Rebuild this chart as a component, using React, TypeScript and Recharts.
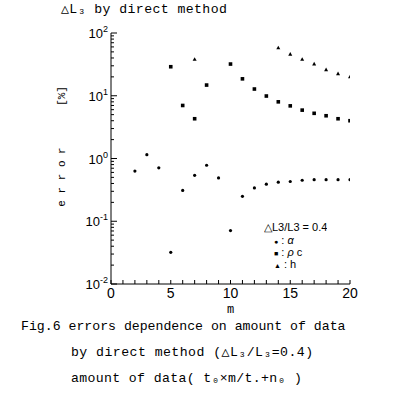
import React from 'react';
import { ScatterChart, Scatter, XAxis, YAxis } from 'recharts';

// m (amount of data) and error [%]
const alphaM = [2, 3, 4, 5, 6, 7, 8, 9, 10, 11, 12, 13, 14, 15, 16, 17, 18, 19, 20];
const alphaErr = [0.63, 1.15, 0.71, 0.032, 0.31, 0.54, 0.78, 0.49, 0.071, 0.25, 0.34, 0.39, 0.42, 0.43, 0.45, 0.46, 0.46, 0.46, 0.46];

const rhoM = [5, 6, 7, 8, 10, 11, 12, 13, 14, 15, 16, 17, 18, 19, 20];
const rhoErr = [29, 7.0, 4.3, 14.8, 32, 18.6, 12.8, 9.9, 8.0, 6.9, 5.9, 5.25, 4.8, 4.3, 4.0];

const hM = [7, 14, 15, 16, 17, 18, 19, 20];
const hErr = [38, 58, 46, 38, 32, 26, 22.5, 20];

const xTicks = [0, 1, 2, 3, 4, 5, 6, 7, 8, 9, 10, 11, 12, 13, 14, 15, 16, 17, 18, 19, 20];
const xLabels = [0, 5, 10, 15, 20];
const decades = [0.01, 0.1, 1, 10, 100];
const minorSteps = [1, 2, 3, 4, 5, 6, 7, 8, 9];

const yTicks = decades
  .slice(0, -1)
  .flatMap((d) => minorSteps.map((k) => +(d * k).toPrecision(3)))
  .concat([100]);

const alphaData = alphaM.map((m, i) => ({ m, err: alphaErr[i] }));
const rhoData = rhoM.map((m, i) => ({ m, err: rhoErr[i] }));
const hData = hM.map((m, i) => ({ m, err: hErr[i] }));

const axisFont = '"Liberation Sans", Arial, sans-serif';
const monoFont = '"Liberation Mono", "DejaVu Sans Mono", monospace';

const isDecade = (v: number) => Math.abs(Math.log10(v) - Math.round(Math.log10(v))) < 1e-6;

const BottomTick = ({ x, y, payload }: any) => (
  <g>
    <line x1={x} x2={x} y1={y} y2={y - 4} stroke="#000" />
    {xLabels.includes(payload.value) && (
      <text x={x} y={y + 14} textAnchor="middle" fontSize={14} fontFamily={axisFont} fill="#000">
        {payload.value}
      </text>
    )}
  </g>
);

const TopTick = ({ x, y }: any) => <line x1={x} x2={x} y1={y} y2={y + 4} stroke="#000" />;

const LeftTick = ({ x, y, payload }: any) => {
  const major = isDecade(payload.value);
  const exp = Math.round(Math.log10(payload.value));
  return (
    <g>
      <line x1={x} x2={x + (major ? 6 : 3)} y1={y} y2={y} stroke="#000" />
      {major && (
        <text x={x - 3} y={y + 5} textAnchor="end" fontSize={13} fontFamily={axisFont} fill="#000">
          10
          <tspan dy={-6} fontSize={9}>{exp}</tspan>
        </text>
      )}
    </g>
  );
};

const RightTick = ({ x, y, payload }: any) =>
  isDecade(payload.value) ? <line x1={x} x2={x - 5} y1={y} y2={y} stroke="#000" /> : <g />;

const Dot = ({ cx, cy }: any) => <circle cx={cx} cy={cy} r={1.6} fill="#000" />;
const Box = ({ cx, cy }: any) => <rect x={cx - 1.8} y={cy - 1.8} width={3.6} height={3.6} fill="#000" />;
const Tri = ({ cx, cy }: any) => (
  <polygon points={`${cx},${cy - 2.2} ${cx + 2},${cy + 1.5} ${cx - 2},${cy + 1.5}`} fill="#000" />
);

const legendRow: React.CSSProperties = { paddingLeft: 10, height: 12, overflow: 'hidden' };

const LegendBox = () => (
  <div
    style={{
      position: 'absolute',
      left: 264,
      top: 221,
      fontFamily: axisFont,
      fontSize: 11,
      color: '#000',
      lineHeight: '12px',
      whiteSpace: 'pre',
    }}
  >
    <div style={{ height: 13, overflow: 'hidden' }}>△L3/L3 = 0.4</div>
    <div style={legendRow}>
      <span style={{ fontSize: 7 }}>●</span> : <i>α</i>
    </div>
    <div style={legendRow}>
      <span style={{ fontSize: 7 }}>■</span> : <i>ρ</i> c
    </div>
    <div style={legendRow}>
      <span style={{ fontSize: 7 }}>▲</span> : h
    </div>
  </div>
);

const textStyle: React.CSSProperties = {
  position: 'absolute',
  fontFamily: monoFont,
  fontSize: 13,
  color: '#000',
  whiteSpace: 'pre',
  lineHeight: '13px',
};

const rotated = (cy: number): React.CSSProperties => ({
  ...textStyle,
  fontSize: 11,
  left: 62,
  top: cy,
  transform: 'translate(-50%, -50%) rotate(-90deg)',
});

export default function App() {
  return (
    <div style={{ position: 'absolute', left: 0, top: 0, width: 400, height: 398, background: '#fff' }}>
      <div style={{ ...textStyle, left: 61, top: 3, fontSize: 13.2, letterSpacing: 0.4 }}>△L₃ by direct method</div>
      <div style={rotated(177)}>e r r o r</div>
      <div style={rotated(96)}>[%]</div>
      <ScatterChart width={400} height={398} margin={{ top: 33, right: 50, bottom: 84, left: 51 }}>
        <XAxis
          dataKey="m"
          type="number"
          domain={[0, 20]}
          ticks={xTicks}
          interval={0}
          tickSize={0}
          tickMargin={0}
          tick={<BottomTick />}
          height={30}
          stroke="#000"
          allowDataOverflow
        />
        <XAxis
          xAxisId="top"
          orientation="top"
          type="number"
          domain={[0, 20]}
          ticks={xTicks}
          interval={0}
          tickSize={0}
          tickMargin={0}
          tick={<TopTick />}
          height={0}
          stroke="#000"
        />
        <YAxis
          dataKey="err"
          type="number"
          scale="log"
          domain={[0.01, 100]}
          ticks={yTicks}
          interval={0}
          tickSize={0}
          tickMargin={0}
          tick={<LeftTick />}
          width={60}
          stroke="#000"
          allowDataOverflow
        />
        <YAxis
          yAxisId="right"
          orientation="right"
          type="number"
          scale="log"
          domain={[0.01, 100]}
          ticks={decades}
          interval={0}
          tickSize={0}
          tickMargin={0}
          tick={<RightTick />}
          width={0}
          stroke="#000"
        />
        <Scatter data={alphaData} shape={<Dot />} isAnimationActive={false} />
        <Scatter data={rhoData} shape={<Box />} isAnimationActive={false} />
        <Scatter data={hData} shape={<Tri />} isAnimationActive={false} />
      </ScatterChart>
      <LegendBox />
      <div style={{ ...textStyle, left: 227, top: 304, fontSize: 12 }}>m</div>
      <div style={{ ...textStyle, left: 21, top: 320, fontSize: 13.2 }}>Fig.6 errors dependence on amount of data</div>
      <div style={{ ...textStyle, left: 71, top: 346, fontSize: 13.2, letterSpacing: 0.45 }}>by direct method (△L₃/L₃=0.4)</div>
      <div style={{ ...textStyle, left: 71, top: 372, fontSize: 13.2, letterSpacing: 0.35 }}>amount of data( t₀×m/t.+n₀ )</div>
    </div>
  );
}
